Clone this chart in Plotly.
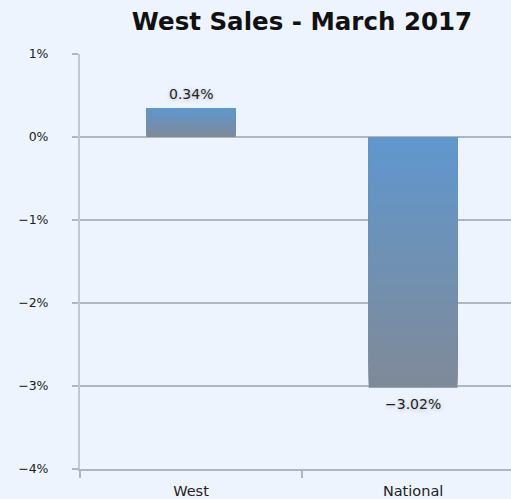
import plotly.graph_objects as go

categories = ["West", "National"]
values = [0.34, -3.02]
y_ticks = [1, 0, -1, -2, -3, -4]
title_text = "West Sales - March 2017"

TOP_RGB = (96, 151, 206)
BOTTOM_RGB = (127, 138, 152)
N = 60

def mix(a, b, t):
    return "rgb(%d,%d,%d)" % tuple(round(a[i] + (b[i] - a[i]) * t) for i in range(3))

fig = go.Figure()
tops = [max(0, v) for v in values]
bottoms = [min(0, v) for v in values]
for k in range(N):
    frac = (N - k) / N
    hs = [(t - b) * frac for t, b in zip(tops, bottoms)]
    fig.add_trace(go.Bar(
        x=categories,
        base=[t - h for t, h in zip(tops, hs)],
        y=hs,
        width=0.4,
        marker=dict(color=mix(BOTTOM_RGB, TOP_RGB, k / (N - 1)), line=dict(width=0)),
        hoverinfo="skip",
        showlegend=False,
    ))

labels = [("%.2f%%" % v).replace("-", "\u2212") for v in values]
for cat, v, lab in zip(categories, values, labels):
    fig.add_annotation(
        x=cat, y=v, xref="x", yref="y", text=lab, showarrow=False,
        yshift=15 if v >= 0 else -16, yanchor="middle",
        font=dict(family="DejaVu Sans", size=14, color="#222222",
                  shadow="0px 1px 4px rgba(0,0,0,0.25)"),
    )

tick_text = [("%d%%" % v).replace("-", "\u2212") for v in y_ticks]

grid_color = "#b0b6be"
fig.update_layout(
    width=511, height=499,
    barmode="overlay",
    paper_bgcolor="#edf4fd",
    plot_bgcolor="#edf4fd",
    margin=dict(l=80, r=0, t=54, b=30, autoexpand=False),
    font=dict(family="DejaVu Sans", size=12, color="#222222"),
    title=dict(text="<b>" + title_text + "</b>", xref="container", x=302/511,
               xanchor="center", yref="container", y=1 - 21/499, yanchor="middle",
               font=dict(family="DejaVu Sans", size=24.5, color="#111111")),
    xaxis=dict(range=[-0.5, 1.441], showgrid=False, showline=True,
               linecolor=grid_color, linewidth=2, ticks="outside",
               tickson="boundaries", ticklen=7, tickcolor=grid_color, tickwidth=2,
               ticklabelstandoff=8, tickfont=dict(size=14.5), fixedrange=True),
    yaxis=dict(range=[-4, 1], tickmode="array", tickvals=y_ticks, ticktext=tick_text,
               showgrid=True, gridcolor=grid_color, gridwidth=2,
               zeroline=True, zerolinecolor=grid_color, zerolinewidth=2,
               showline=True, linecolor="#c3c8ce", linewidth=2,
               ticks="outside", ticklen=6, tickcolor=grid_color, tickwidth=2,
               ticklabelstandoff=21, tickfont=dict(size=12.5), fixedrange=True),
)

fig.write_html("out.html", config={"displayModeBar": False},
               post_script="document.body.style.margin='0';document.body.style.overflow='hidden';")
